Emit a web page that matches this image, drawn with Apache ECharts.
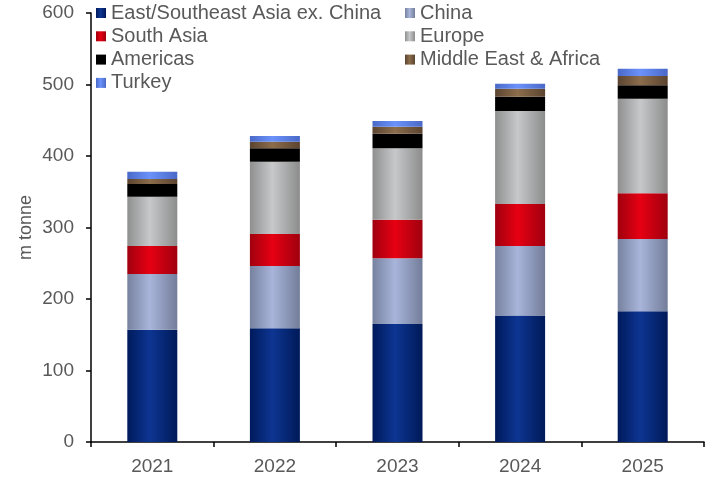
<!DOCTYPE html>
<html>
<head>
<meta charset="utf-8">
<script src="https://cdn.jsdelivr.net/npm/echarts@6/dist/echarts.min.js"></script>
<style>
  html, body { margin: 0; padding: 0; background: #fff; }
  #chart { width: 707px; height: 481px; }
</style>
</head>
<body>
<div id="chart"></div>
<script>
const years = ["2021", "2022", "2023", "2024", "2025"];

const eastSoutheastAsia = [157, 159, 165, 177, 183];
const china = [78, 87, 92, 97, 101];
const southAsia = [39, 45, 54, 59, 64];
const europe = [69, 101, 100, 130, 132];
const americas = [18, 19, 20, 20, 19];
const middleEastAfrica = [7, 9, 10, 11, 13];
const turkey = [10, 8, 8, 7, 10];

const yTicks = [0, 100, 200, 300, 400, 500, 600];

const textGrey = "#595959";
const fontFamily = "Liberation Sans, Arial, sans-serif";

// horizontal shading like the original bars
const shade = (edge, mid, edge2) =>
  new echarts.graphic.LinearGradient(0, 0, 1, 0, [
    { offset: 0, color: edge },
    { offset: 0.45, color: mid },
    { offset: 1, color: edge2 || edge },
  ]);

const seriesDefs = [
  { name: "East/Southeast Asia ex. China", data: eastSoutheastAsia, color: shade("#001a5c", "#0d3592", "#001a58") },
  { name: "China", data: china, color: shade("#77829f", "#a8b5da", "#737d9a") },
  { name: "South Asia", data: southAsia, color: shade("#a0000f", "#e60012", "#a0000f") },
  { name: "Europe", data: europe, color: shade("#8f8f8f", "#c6c8ca", "#8c8c8c") },
  { name: "Americas", data: americas, color: "#000000" },
  { name: "Middle East & Africa", data: middleEastAfrica, color: shade("#5b4430", "#8c6d4c", "#5b4430") },
  { name: "Turkey", data: turkey, color: shade("#4a69c8", "#6b92fa", "#4a69c8") },
];

const legendBase = {
  orient: "vertical",
  top: 3,
  padding: 0,
  itemWidth: 10,
  itemHeight: 10,
  itemGap: 3.3,
  icon: "rect",
  textStyle: { color: textGrey, fontSize: 20, lineHeight: 20, fontFamily: fontFamily },
};

const chart = echarts.init(document.getElementById("chart"));

chart.setOption({
  animation: false,
  textStyle: { fontFamily: fontFamily },
  legend: [
    Object.assign({}, legendBase, {
      left: 96,
      data: ["East/Southeast Asia ex. China", "South Asia", "Americas", "Turkey"],
    }),
    Object.assign({}, legendBase, {
      left: 405,
      data: ["China", "Europe", "Middle East & Africa"],
    }),
  ],
  grid: { left: 91, right: 3, top: 13, bottom: 39 },
  xAxis: {
    type: "category",
    data: years,
    axisLine: { lineStyle: { color: "#000", width: 1.5 } },
    axisTick: { show: true, length: 5, lineStyle: { color: "#000", width: 1.5 } },
    axisLabel: { color: textGrey, fontSize: 19, margin: 15 },
  },
  yAxis: {
    type: "value",
    min: yTicks[0],
    max: yTicks[yTicks.length - 1],
    interval: 100,
    name: "m tonne",
    nameLocation: "middle",
    nameGap: 56,
    nameMoveOverlap: false,
    nameTextStyle: { color: textGrey, fontSize: 18 },
    axisLine: { show: true, lineStyle: { color: "#000", width: 1.5 } },
    axisTick: { show: true, length: 5, lineStyle: { color: "#000", width: 1.5 } },
    axisLabel: { color: textGrey, fontSize: 19, margin: 17 },
    splitLine: { show: false },
  },
  series: seriesDefs.map((s) => ({
    name: s.name,
    type: "bar",
    stack: "total",
    barWidth: 50,
    data: s.data,
    itemStyle: { color: s.color },
  })),
});
</script>
</body>
</html>
